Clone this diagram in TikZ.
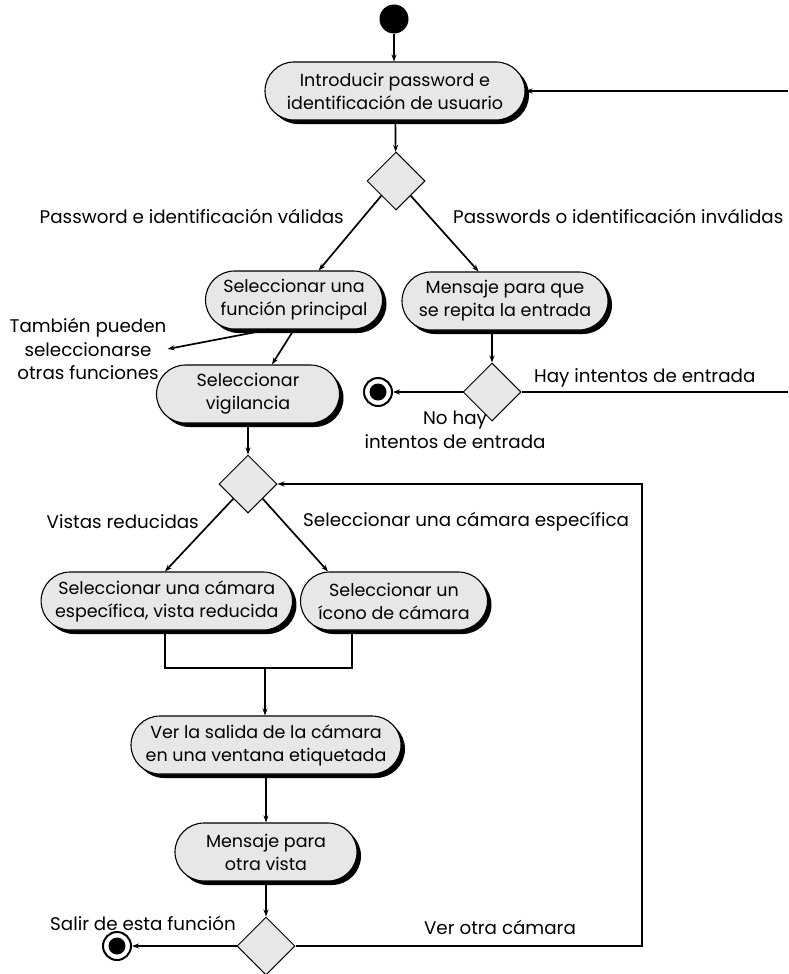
\documentclass[tikz,border=0pt]{standalone}
\usepackage{fontspec}
\setmainfont{Poppins}
\usetikzlibrary{positioning,arrows.meta,shapes.geometric,shadows}
\definecolor{actgray}{RGB}{230,231,232}

\begin{document}
\begin{tikzpicture}[
    x=1pt, y=-1pt,
    font=\fontsize{17.5}{23}\selectfont,
    activity/.style={rectangle, rounded corners=29pt, draw, line width=1.1pt, fill=actgray, align=center, minimum height=58pt, inner xsep=14pt, drop shadow={shadow xshift=4pt, shadow yshift=-4pt, fill=black, opacity=1}},
    decision/.style={diamond, draw, line width=1pt, fill=actgray, minimum size=58pt, inner sep=0pt},
    startnode/.style={circle, fill=black, minimum size=29pt, inner sep=0pt},
    endnode/.style={circle, draw, line width=2pt, fill=white, minimum size=28pt, inner sep=0pt, path picture={\fill[black] (path picture bounding box.center) circle (8.5pt);}},
    guard/.style={align=center, inner sep=1pt, font=\fontsize{18.3}{23.5}\selectfont},
    arrow/.style={-{Stealth[length=7pt, width=5pt]}, line width=1.7pt},
    line/.style={line width=1.7pt}
]
\useasboundingbox (0,0) rectangle (788,974);

\node[startnode] (start) at (394,19) {};
\node[activity, minimum width=260pt] (intro) at (395,91) {Introducir password e\\identificación de usuario};
\node[decision] (check) at (396,181) {};
\node[activity, minimum width=177pt] (principal) at (294,300) {Seleccionar una\\función principal};
\node[activity, minimum width=206pt] (repetir) at (505,301) {Mensaje para que\\se repita la entrada};
\node[activity, minimum width=183pt] (vigilancia) at (248,394) {Seleccionar\\vigilancia};
\node[decision] (intentos) at (492,392) {};
\node[endnode] (fin) at (378,392) {};
\node[decision] (vistas) at (248,484) {};
\node[activity, anchor=east, minimum width=240pt] (reducida) at (293,601) {Seleccionar una cámara\\específica, vista reducida};
\node[activity, minimum width=187pt] (icono) at (394,601) {Seleccionar un\\ícono de cámara};
\node[activity, minimum width=270pt] (ventana) at (266,745) {Ver la salida de la cámara\\en una ventana etiquetada};
\node[activity, minimum width=182pt] (otra) at (266,852) {Mensaje para\\otra vista};
\node[decision] (salida) at (266,946) {};
\node[endnode] (salir) at (117,946) {};

% guardas
\node[guard, anchor=east] (valida) at (345,216) {Password e identificación válidas};
\node[guard, anchor=west] (invalida) at (452,216) {Passwords o identificación inválidas};
\node[guard] (otras) at (88,349) {También pueden\\seleccionarse\\otras funciones};
\node[guard, anchor=west] (hay) at (533,378) {Hay intentos de entrada};
\node[guard] (nohay) at (455,430) {No hay\\intentos de entrada};
\node[guard, anchor=east] (reducidas) at (200,522) {Vistas reducidas};
\node[guard, anchor=west] (especifica) at (302,522) {Seleccionar una cámara específica};
\node[guard] (salirtxt) at (143,923) {Salir de esta función};
\node[guard] (otracam) at (500,927) {Ver otra cámara};

\coordinate (retorno) at (788,91);
\coordinate (repite) at (788,392);
\coordinate (joinL) at (165,668);
\coordinate (joinR) at (352,668);
\coordinate (join) at (265,668);
\coordinate (vuelta) at (642,484);

\draw[arrow] (start) -- (start |- intro.north);
\draw[arrow] (retorno) -- (intro.east);
\draw[arrow] (intro) -- (check);
\draw[arrow] (check.south west) -- (principal);
\draw[arrow] (check.south east) -- (repetir);
\draw[arrow] ([xshift=-25pt]principal.south) -- (otras.east);
\draw[arrow] (principal.south) -- ([xshift=24pt]vigilancia.north);
\draw[arrow] (intentos |- repetir.south) -- (intentos);
\draw[line] (repite) -- (intentos.east);
\draw[arrow] (intentos.west) -- (fin);
\draw[arrow] (vigilancia) -- (vistas);
\draw[arrow] (vistas.south west) -- (joinL |- reducida.north);
\draw[arrow] (vistas.south east) -- ([xshift=-66pt]icono.north);
\draw[line] (joinL |- reducida.south) -- (joinL) -- (joinR) -- (joinR |- icono.south);
\draw[arrow] (join) -- (join |- ventana.north);
\draw[arrow] (ventana) -- (otra);
\draw[arrow] (otra) -- (salida);
\draw[arrow] (salida.west) -- (salir);
\draw[arrow] (salida.east) -| (vuelta) -- (vistas.east);
\end{tikzpicture}
\end{document}
